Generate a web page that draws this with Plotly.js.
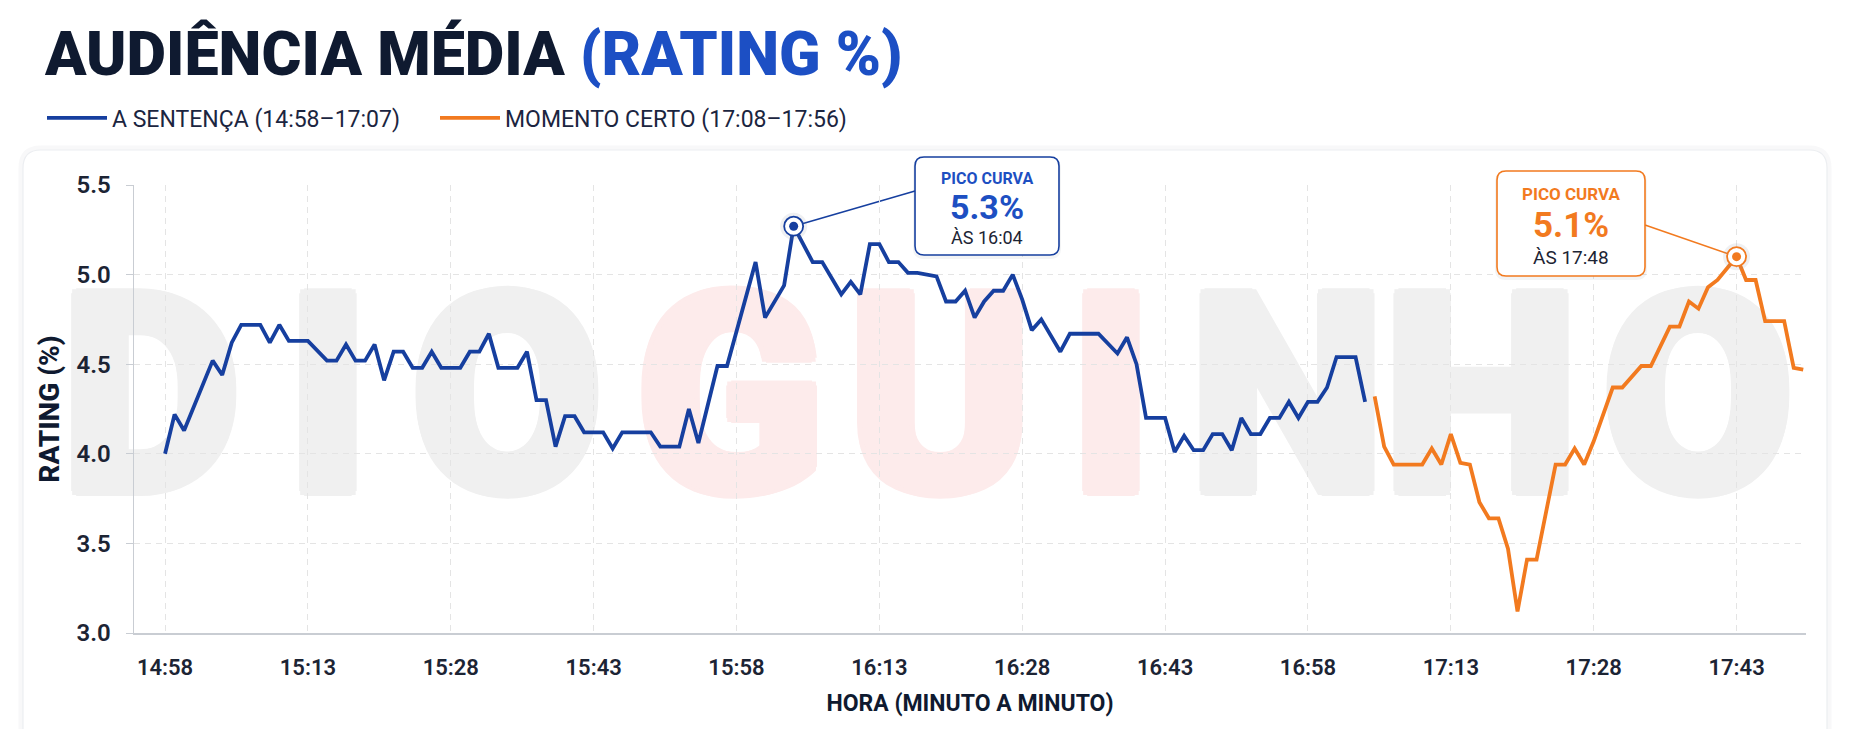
<!DOCTYPE html>
<html><head><meta charset="utf-8">
<script src="https://cdn.plot.ly/plotly-3.0.1.min.js"></script>
<style>html,body{margin:0;padding:0;background:#fff;}#chart{width:1852px;height:729px;}</style>
</head><body><div id="chart"></div>
<script>
// ---------------- DATA ----------------
const seriesNames = ['A SENTENÇA (14:58–17:07)', 'MOMENTO CERTO (17:08–17:56)'];

const sentencaTimes = ['14:58','14:59','15:00','15:02','15:03','15:04','15:05','15:06','15:08','15:09','15:10','15:11','15:13','15:15','15:16','15:17','15:18','15:19','15:20','15:21','15:22','15:23','15:24','15:25','15:26','15:27','15:29','15:30','15:31','15:32','15:33','15:35','15:36','15:37','15:38','15:39','15:40','15:41','15:42','15:44','15:45','15:46','15:49','15:50','15:52','15:53','15:54','15:56','15:57','16:00','16:01','16:03','16:04','16:06','16:07','16:09','16:10','16:11','16:12','16:13','16:14','16:15','16:16','16:17','16:19','16:20','16:21','16:22','16:23','16:24','16:25','16:26','16:27','16:28','16:29','16:30','16:32','16:33','16:36','16:38','16:39','16:40','16:41','16:43','16:44','16:45','16:46','16:47','16:48','16:49','16:50','16:51','16:52','16:53','16:54','16:55','16:56','16:57','16:58','16:59','17:00','17:01','17:03','17:04'];
const sentencaRating = [4.00,4.22,4.13,4.39,4.52,4.44,4.62,4.72,4.72,4.62,4.72,4.63,4.63,4.52,4.52,4.61,4.52,4.52,4.61,4.41,4.57,4.57,4.48,4.48,4.57,4.48,4.48,4.57,4.57,4.67,4.48,4.48,4.57,4.30,4.30,4.04,4.21,4.21,4.12,4.12,4.03,4.12,4.12,4.04,4.04,4.25,4.06,4.49,4.49,5.07,4.76,4.94,5.27,5.07,5.07,4.89,4.96,4.89,5.17,5.17,5.07,5.07,5.01,5.01,4.99,4.85,4.85,4.91,4.76,4.85,4.91,4.91,5.00,4.86,4.69,4.75,4.57,4.67,4.67,4.56,4.65,4.50,4.20,4.20,4.01,4.10,4.02,4.02,4.11,4.11,4.02,4.20,4.11,4.11,4.20,4.20,4.29,4.20,4.29,4.29,4.37,4.54,4.54,4.29];

const momentoTimes = ['17:05','17:06','17:07','17:10','17:11','17:12','17:13','17:14','17:15','17:16','17:17','17:18','17:19','17:20','17:21','17:22','17:24','17:25','17:26','17:27','17:28','17:29','17:30','17:31','17:33','17:34','17:36','17:37','17:38','17:39','17:40','17:41','17:43','17:44','17:45','17:46','17:48','17:49','17:50'];
const momentoRating = [4.32,4.04,3.94,3.94,4.03,3.94,4.11,3.95,3.94,3.73,3.64,3.64,3.47,3.12,3.41,3.41,3.94,3.94,4.03,3.94,4.07,4.22,4.37,4.37,4.49,4.49,4.71,4.71,4.85,4.81,4.93,4.97,5.10,4.97,4.97,4.74,4.74,4.48,4.47];

const tickLabels = ['14:58','15:13','15:28','15:43','15:58','16:13','16:28','16:43','16:58','17:13','17:28','17:43'];
const yTickValues = [3.0, 3.5, 4.0, 4.5, 5.0, 5.5];
const peakHeader = 'PICO CURVA';
const peakTimeLabels = ['ÀS 16:04', 'ÀS 17:48'];
const watermarkParts = ['DIO', 'GUI', 'NHO'];

// ---------------- STYLE ----------------
const BLUE = '#163f9f', BLUE_TXT = '#1d4fc2', ORANGE = '#f27a1f', NAVY = '#0f1a30', TXT = '#1c2434';
const W = 1852, H = 729;
const M = {l: 134, r: 46, t: 185, b: 96};
const L = M.l, R = W - M.r, T = M.t, B = H - M.b;
const BASE = 14 * 60 + 58;
const toMin = t => { const p = t.split(':').map(Number); return p[0] * 60 + p[1] - BASE; };
const xRange = [-3.26, 172.29];
const yRange = [3.0, 5.5];

const px2x = p => (p - L) / (R - L);
const py2y = p => (B - p) / (B - T);
const d2x = m => (m - xRange[0]) / (xRange[1] - xRange[0]);
const d2y = v => (v - yRange[0]) / (yRange[1] - yRange[0]);

function roundRect(x0, y0, x1, y1, r) {
  const P = (x, y) => px2x(x).toFixed(5) + ',' + py2y(y).toFixed(5);
  return 'M' + P(x0 + r, y0) + ' L' + P(x1 - r, y0) + ' Q' + P(x1, y0) + ' ' + P(x1, y0 + r) +
    ' L' + P(x1, y1 - r) + ' Q' + P(x1, y1) + ' ' + P(x1 - r, y1) +
    ' L' + P(x0 + r, y1) + ' Q' + P(x0, y1) + ' ' + P(x0, y1 - r) +
    ' L' + P(x0, y0 + r) + ' Q' + P(x0, y0) + ' ' + P(x0 + r, y0) + ' Z';
}

const series = [
  {name: seriesNames[0], legend: 'legend', x: sentencaTimes.map(toMin), y: sentencaRating, color: BLUE, txt: BLUE_TXT,
   box: [915, 157, 1059, 255], edge: [915, 191], label: peakTimeLabels[0], sizes: [16, 34, 18]},
  {name: seriesNames[1], legend: 'legend2', x: momentoTimes.map(toMin), y: momentoRating, color: ORANGE, txt: ORANGE,
   box: [1497, 171, 1645, 276], edge: [1645, 225], label: peakTimeLabels[1], sizes: [17, 35, 19]}
];

const traces = [];
const shapes = [];
const annotations = [];

// card
shapes.push({type: 'path', xref: 'paper', yref: 'paper', layer: 'below', path: roundRect(21, 148, 1829, 770, 20),
  fillcolor: 'rgba(0,0,0,0)', line: {color: 'rgba(20,30,60,0.03)', width: 5}});
shapes.push({type: 'path', xref: 'paper', yref: 'paper', layer: 'below', path: roundRect(23, 150, 1827, 770, 18),
  fillcolor: '#ffffff', line: {color: '#eceef1', width: 1.2}});

// watermark letters, drawn under the grid and the lines
const wmLetterCenters = [151, 328, 507, 730, 940, 1111, 1287, 1481, 1698];
const wmColors = ['#f0f0f0', '#fdebeb', '#f0f0f0'];
const thick = c => ['5px 0 0 ', '-5px 0 0 ', '0 5px 0 ', '0 -5px 0 ', '4px 4px 0 ', '-4px -4px 0 ', '4px -4px 0 ', '-4px 4px 0 ']
  .map(o => o + c).join(', ');
let li = 0;
watermarkParts.forEach((part, g) => {
  part.split('').forEach(ch => {
    const c = wmLetterCenters[li++];
    shapes.push({type: 'rect', xref: 'paper', yref: 'paper', layer: 'below',
      x0: px2x(c - 130), x1: px2x(c + 130), y0: py2y(476), y1: py2y(276),
      line: {width: 0}, fillcolor: 'rgba(0,0,0,0)',
      label: {text: ch, textposition: 'middle center', padding: 0,
        font: {family: 'Roboto', size: 278, color: wmColors[g], weight: 900, shadow: thick(wmColors[g])}}});
  });
});

series.forEach(s => {
  traces.push({type: 'scatter', mode: 'lines', name: s.name, legend: s.legend, x: s.x, y: s.y,
    line: {color: s.color, width: 3.8, shape: 'linear'}, hoverinfo: 'skip'});
});

series.forEach(s => {
  let k = 0;
  s.y.forEach((v, i) => { if (v > s.y[k]) k = i; });
  const pm = s.x[k], pv = s.y[k];
  shapes.push({type: 'line', xref: 'paper', yref: 'paper', layer: 'below',
    x0: d2x(pm), y0: d2y(pv), x1: px2x(s.edge[0]), y1: py2y(s.edge[1]),
    line: {color: s.color, width: 1.6}});
  const b = s.box;
  shapes.push({type: 'path', xref: 'paper', yref: 'paper', layer: 'above',
    path: roundRect(b[0] - 2, b[1] + 1, b[2] + 2, b[3] + 4, 11), fillcolor: 'rgba(20,30,60,0.05)', line: {width: 0}});
  shapes.push({type: 'path', xref: 'paper', yref: 'paper', layer: 'above',
    path: roundRect(b[0], b[1], b[2], b[3], 9), fillcolor: '#ffffff', line: {color: s.color, width: 1.6}});
  const cx = px2x((b[0] + b[2]) / 2);
  const hgt = b[3] - b[1];
  annotations.push({xref: 'paper', yref: 'paper', x: cx, y: py2y(b[1] + hgt * 0.215), xanchor: 'center', yanchor: 'middle',
    showarrow: false, text: peakHeader, font: {family: 'Roboto', size: s.sizes[0], color: s.txt, weight: 700}});
  annotations.push({xref: 'paper', yref: 'paper', x: cx, y: py2y(b[1] + hgt * 0.515), xanchor: 'center', yanchor: 'middle',
    showarrow: false, text: pv.toFixed(1) + '%', font: {family: 'Roboto', size: s.sizes[1], color: s.txt, weight: 700}});
  annotations.push({xref: 'paper', yref: 'paper', x: cx, y: py2y(b[1] + hgt * 0.82), xanchor: 'center', yanchor: 'middle',
    showarrow: false, text: s.label, font: {family: 'Roboto', size: s.sizes[2], color: TXT}});
  traces.push({type: 'scatter', mode: 'markers', x: [pm], y: [pv], showlegend: false, hoverinfo: 'skip',
    marker: {size: 27, color: 'rgba(120,130,150,0.12)'}});
  traces.push({type: 'scatter', mode: 'markers', x: [pm], y: [pv], showlegend: false, hoverinfo: 'skip',
    marker: {size: 19, color: '#ffffff', line: {color: s.color, width: 1.8}}});
  traces.push({type: 'scatter', mode: 'markers', x: [pm], y: [pv], showlegend: false, hoverinfo: 'skip',
    marker: {size: 9, color: s.color, line: {width: 0}}});
});

const legendBase = {orientation: 'h', xref: 'container', yref: 'container', y: 1 - 118 / H,
  xanchor: 'left', yanchor: 'middle', itemwidth: 60,
  font: {family: 'Roboto', size: 23, color: '#1b2540'}, bgcolor: 'rgba(0,0,0,0)'};

const layout = {
  width: W, height: H,
  margin: M,
  paper_bgcolor: '#ffffff', plot_bgcolor: 'rgba(0,0,0,0)',
  font: {family: 'Roboto, sans-serif', color: TXT},
  title: {text: 'AUDIÊNCIA MÉDIA <span style="color:#1c4fc4">(RATING %)</span>',
    font: {family: 'Roboto', size: 61, color: NAVY, weight: 900},
    x: 45 / W, xref: 'container', xanchor: 'left', y: 1 - 54 / H, yref: 'container', yanchor: 'middle'},
  showlegend: true,
  legend: Object.assign({}, legendBase, {x: 42 / W}),
  legend2: Object.assign({}, legendBase, {x: 435 / W}),
  xaxis: {type: 'linear', range: xRange, tickvals: tickLabels.map(toMin), ticktext: tickLabels,
    showgrid: true, gridcolor: '#e4e4e4', griddash: '6px,5px', gridwidth: 1,
    showline: true, linecolor: '#c9cdd3', linewidth: 1.5, zeroline: false, ticks: '',
    ticklabelstandoff: 14,
    tickfont: {family: 'Roboto', size: 22, color: TXT, weight: 600},
    title: {text: 'HORA (MINUTO A MINUTO)', standoff: 16, font: {family: 'Roboto', size: 23, color: NAVY, weight: 700}}},
  yaxis: {range: yRange, tickvals: yTickValues, tickformat: '.1f',
    showgrid: true, gridcolor: '#e4e4e4', griddash: '6px,5px', gridwidth: 1,
    showline: true, linecolor: '#c9cdd3', linewidth: 1.5, zeroline: false,
    ticks: 'outside', ticklen: 7, tickcolor: '#c9cdd3', ticklabelstandoff: 10,
    tickfont: {family: 'Roboto', size: 24, color: TXT, weight: 600},
    title: {text: 'RATING (%)', standoff: 8, font: {family: 'Roboto', size: 28, color: NAVY, weight: 800}}},
  shapes: shapes,
  annotations: annotations
};

Plotly.newPlot('chart', traces, layout, {staticPlot: true, displayModeBar: false});
</script>
</body></html>
